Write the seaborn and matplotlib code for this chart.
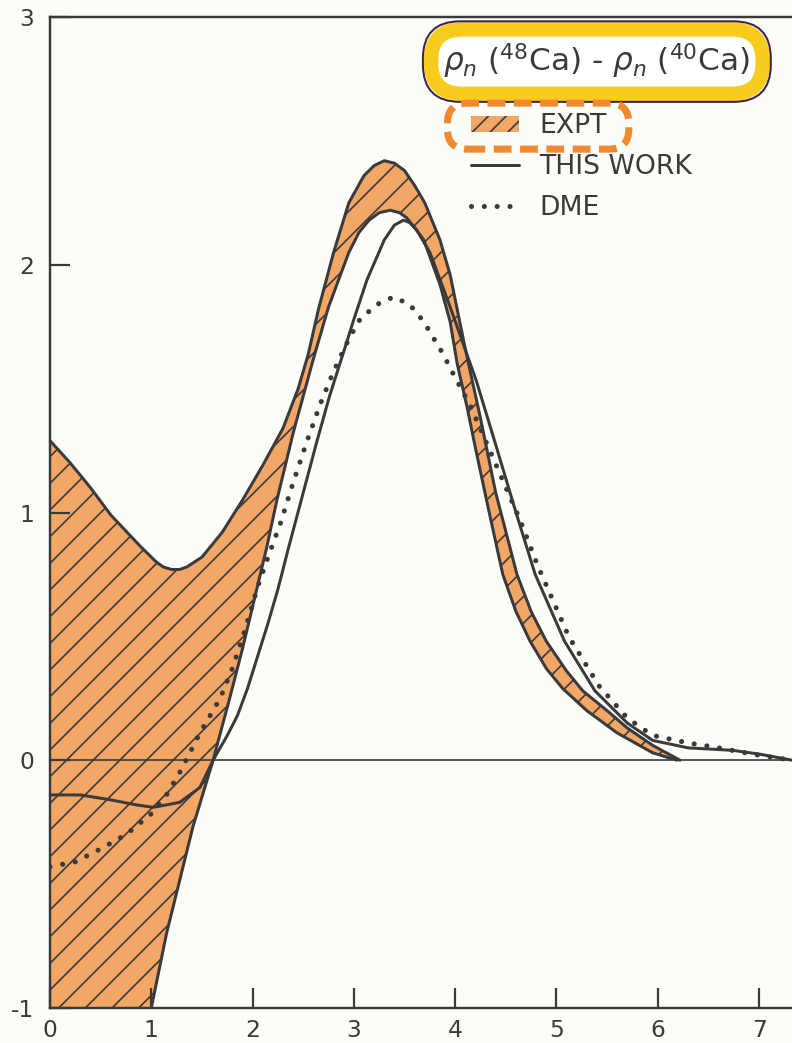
import numpy as np
import pandas as pd
import matplotlib
matplotlib.use("Agg")
import matplotlib.pyplot as plt
import seaborn as sns
from matplotlib.patches import Patch, FancyBboxPatch
from matplotlib.lines import Line2D
from matplotlib.transforms import Bbox, IdentityTransform

# ---------------- data ----------------
expt_hi_x = [0.0, 0.2, 0.4, 0.6, 0.9, 1.05, 1.12, 1.2, 1.28, 1.35, 1.5, 1.7, 1.9, 2.1, 2.3,
             2.45, 2.55, 2.65, 2.8, 2.95, 3.1, 3.2, 3.3, 3.4, 3.5, 3.6, 3.7, 3.85, 3.95,
             4.1, 4.25, 4.4, 4.61, 4.75, 4.9, 5.1, 5.26, 5.5, 5.7, 5.95, 6.22]
expt_hi_y = [1.29, 1.20, 1.10, 0.99, 0.86, 0.80, 0.78, 0.77, 0.77, 0.78, 0.82, 0.92, 1.05, 1.19, 1.34,
             1.50, 1.64, 1.82, 2.05, 2.25, 2.36, 2.40, 2.42, 2.41, 2.38, 2.32, 2.25, 2.10, 1.96,
             1.66, 1.38, 1.08, 0.75, 0.60, 0.48, 0.36, 0.28, 0.20, 0.13, 0.06, 0.0]

expt_lo_x = [0.0, 0.5, 1.0, 1.15, 1.41, 1.61, 1.78, 1.9, 2.0, 2.14, 2.24, 2.4, 2.6, 2.75,
             2.95, 3.05, 3.15, 3.25, 3.36, 3.45, 3.52, 3.6, 3.69, 3.85, 3.95, 4.02, 4.12,
             4.2, 4.32, 4.47, 4.6, 4.74, 4.9, 5.06, 5.3, 5.6, 5.95, 6.19]
expt_lo_y = [-3.0, -2.0, -1.0, -0.70, -0.27, 0.0, 0.26, 0.45, 0.62, 0.86, 1.05, 1.32, 1.62, 1.83,
             2.05, 2.13, 2.18, 2.21, 2.22, 2.21, 2.19, 2.15, 2.10, 1.92, 1.77, 1.60, 1.42,
             1.26, 1.03, 0.75, 0.60, 0.48, 0.37, 0.29, 0.20, 0.11, 0.03, 0.0]

work_x = [0.0, 0.3, 0.6, 0.85, 1.02, 1.15, 1.28, 1.48, 1.61, 1.75, 1.85, 1.95, 2.05, 2.15,
          2.25, 2.35, 2.5, 2.63, 2.76, 2.9, 3.0, 3.13, 3.3, 3.4, 3.49, 3.55, 3.62, 3.75,
          3.95, 4.21, 4.41, 4.6, 4.79, 5.08, 5.38, 5.7, 5.95, 6.3, 6.74, 7.0, 7.33]
work_y = [-0.14, -0.14, -0.16, -0.18, -0.19, -0.18, -0.17, -0.11, 0.0, 0.10, 0.18, 0.29, 0.42, 0.55,
          0.69, 0.85, 1.08, 1.28, 1.47, 1.65, 1.78, 1.94, 2.10, 2.16, 2.18, 2.17, 2.14, 2.05,
          1.83, 1.53, 1.26, 1.00, 0.75, 0.48, 0.28, 0.15, 0.08, 0.05, 0.04, 0.025, 0.0]

dme_x = [0.0, 0.25, 0.49, 0.75, 0.99, 1.15, 1.28, 1.38, 1.48, 1.58, 1.68, 1.8, 1.92, 2.05,
         2.17, 2.27, 2.4, 2.53, 2.67, 2.8, 2.95, 3.06, 3.23, 3.39, 3.55, 3.69, 3.88, 3.98,
         4.15, 4.31, 4.48, 4.64, 4.81, 5.12, 5.42, 5.7, 5.95, 6.3, 6.6, 7.0, 7.33]
dme_y = [-0.43, -0.41, -0.36, -0.30, -0.22, -0.14, -0.05, 0.03, 0.11, 0.18, 0.25, 0.37, 0.52, 0.70,
         0.84, 0.95, 1.12, 1.28, 1.44, 1.57, 1.70, 1.78, 1.84, 1.87, 1.84, 1.77, 1.64, 1.56,
         1.43, 1.28, 1.12, 0.97, 0.79, 0.50, 0.30, 0.17, 0.10, 0.07, 0.05, 0.02, 0.0]

x_ticks = [0, 1, 2, 3, 4, 5, 6, 7]
x_ticklabels = ["0", "1", "2", "3", "4", "5", "6", "7"]
y_ticks = [-1, 0, 1, 2, 3]
y_ticklabels = ["-1", "0", "1", "2", "3"]
legend_labels = ["EXPT", "THIS WORK", "DME"]
title_text = r"$\rho_n$ ($^{48}$Ca) - $\rho_n$ ($^{40}$Ca)"

# ---------------- style ----------------
sns.set_style("ticks")
plt.rcParams["font.family"] = ["DejaVu Sans"]
plt.rcParams["mathtext.fontset"] = "dejavusans"
plt.rcParams["axes.unicode_minus"] = False
plt.rcParams["hatch.linewidth"] = 0.75

INK = "#3a3a3c"
ORANGE = "#F3A766"
BG = "#FDFDF8"
DPI = 160
W, H = 792, 1043

fig = plt.figure(figsize=(W / DPI, H / DPI), dpi=DPI, facecolor=BG)
ax = fig.add_axes([50 / W, 35 / H, 742 / W, 991 / H])
ax.set_facecolor(BG)

# band (EXPT)
band_x = expt_hi_x + expt_lo_x[::-1]
band_y = expt_hi_y + expt_lo_y[::-1]
ax.fill(band_x, band_y, facecolor=ORANGE, edgecolor=INK, hatch="//", linewidth=0, zorder=1)

df_hi = pd.DataFrame({"x": expt_hi_x, "y": expt_hi_y})
df_lo = pd.DataFrame({"x": expt_lo_x, "y": expt_lo_y})
df_w = pd.DataFrame({"x": work_x, "y": work_y})
df_d = pd.DataFrame({"x": dme_x, "y": dme_y})

sns.lineplot(data=df_hi, x="x", y="y", ax=ax, color=INK, lw=1.35, sort=False, estimator=None, zorder=3)
sns.lineplot(data=df_lo, x="x", y="y", ax=ax, color=INK, lw=1.35, sort=False, estimator=None, zorder=3)
sns.lineplot(data=df_w, x="x", y="y", ax=ax, color=INK, lw=1.35, sort=False, estimator=None, zorder=3)
sns.lineplot(data=df_d, x="x", y="y", ax=ax, color=INK, lw=2.3, sort=False, estimator=None,
             linestyle=(0, (0.01, 2.5)), dash_capstyle="round", zorder=3)

ax.axhline(0, color=INK, lw=0.75, zorder=2)

ax.set_xlim(0, 7.325)
ax.set_ylim(-1, 3)
ax.set_xlabel("")
ax.set_ylabel("")
ax.set_xticks(x_ticks)
ax.set_xticklabels(x_ticklabels)
ax.set_yticks(y_ticks)
ax.set_yticklabels(y_ticklabels)
ax.set_axisbelow(False)
ax.tick_params(direction="in", length=9, width=1.0, colors=INK, labelsize=10.5,
               bottom=True, left=True, top=False, right=False)
ax.tick_params(axis="y", pad=7)
ax.tick_params(axis="x", pad=5)
for s in ["top", "left", "bottom"]:
    ax.spines[s].set_color(INK)
    ax.spines[s].set_linewidth(1.1)
    ax.spines[s].set_zorder(5)
ax.spines["right"].set_visible(False)

# title in yellow highlight
ax.text(0.737, 0.955, title_text, transform=ax.transAxes, ha="center", va="center",
        fontsize=14, color=INK, zorder=6,
        bbox=dict(boxstyle="round,pad=0.40,rounding_size=1.0", fc="white", ec="#F8CB1C", lw=6.5))
ax.text(0.737, 0.955, title_text, transform=ax.transAxes, ha="center", va="center",
        fontsize=14, color="none", zorder=7,
        bbox=dict(boxstyle="round,pad=0.66,rounding_size=1.2", fc="none", ec="#3b2348", lw=0.9))

# legend
handles = [Patch(facecolor=ORANGE, edgecolor=INK, hatch="///", lw=0),
           Line2D([], [], color=INK, lw=1.35),
           Line2D([], [], color=INK, lw=2.3, linestyle=(0, (0.01, 2.5)), dash_capstyle="round")]
leg = ax.legend(handles, legend_labels, loc="upper left", bbox_to_anchor=(0.568, 0.903),
                frameon=False, borderpad=0, borderaxespad=0, handlelength=1.8,
                handleheight=0.55, handletextpad=0.75, labelspacing=0.56, fontsize=12,
                labelcolor=INK)
leg.set_zorder(8)

fig.canvas.draw()
r = fig.canvas.get_renderer()
bb_t = leg.get_texts()[0].get_window_extent(r)
bb_h = leg.legend_handles[0].get_window_extent(r)
bb = Bbox.union([bb_t, bb_h])
box = FancyBboxPatch((bb.x0 - 12, bb.y0 + 2), bb.width + 22, bb.height - 4,
                     boxstyle="round,pad=12,rounding_size=20", transform=IdentityTransform(),
                     fc="none", ec="#F08A30", lw=3.2, ls=(0, (2.5, 1.2)), zorder=9)
fig.add_artist(box)

fig.savefig("out.png", dpi=DPI, facecolor=BG)
